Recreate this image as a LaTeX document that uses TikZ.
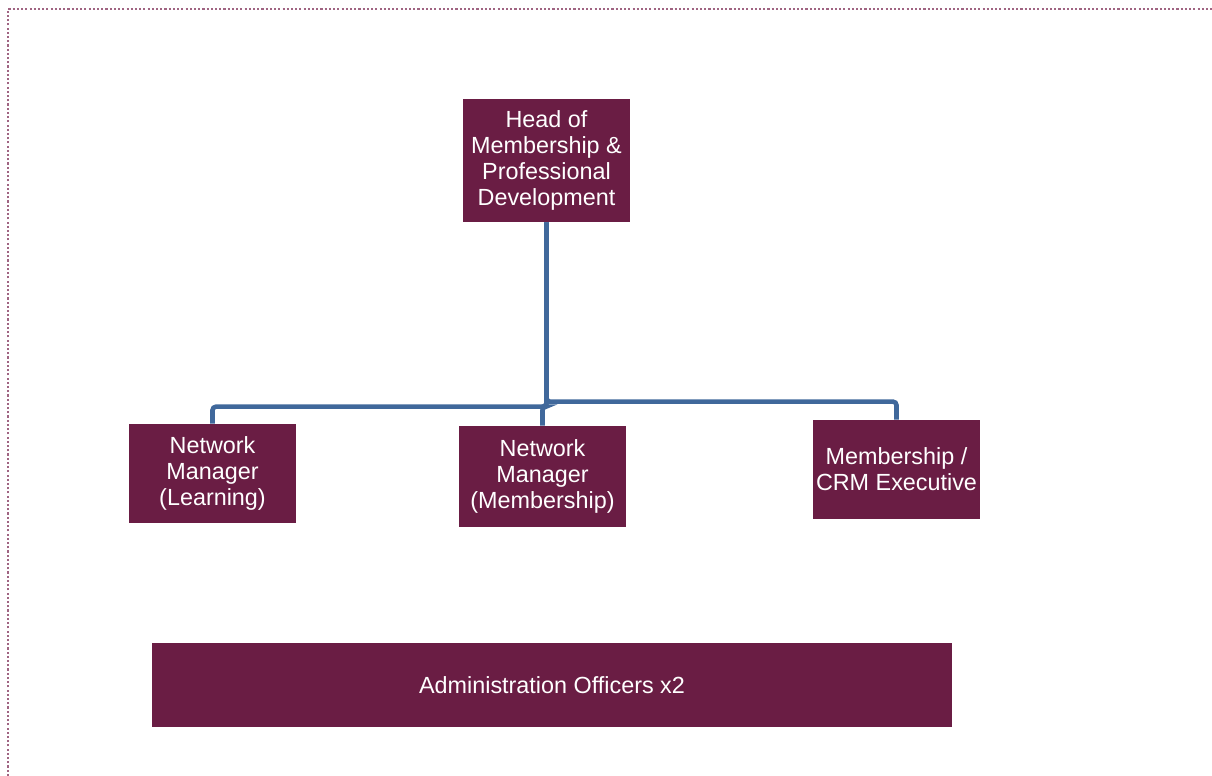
\documentclass[tikz,border=0pt]{standalone}
\usepackage{fontspec}
\setmainfont{Liberation Sans}
\usepackage{xcolor}
\definecolor{boxred}{RGB}{106,29,68}
\definecolor{linkblue}{RGB}{64,104,155}
\definecolor{edgepink}{RGB}{160,100,130}

\begin{document}
\begin{tikzpicture}[x=0.02cm, y=-0.02cm,
  post/.style={rectangle, fill=boxred, text=white, align=center, inner sep=0pt,
    minimum width=3.34cm, font=\fontsize{13.3}{14.8}\selectfont},
  link/.style={draw=linkblue, line width=2.6pt, rounded corners=2pt}]
\useasboundingbox (0,0) rectangle (1212,776);

% Page edge
\draw[edgepink, dash pattern=on 1.2pt off 1.2pt, line width=1.2pt] (8,776) -- (8,9) -- (1212,9);

% Nodes
\node[post, minimum height=2.46cm] (head) at (546.5,160.5) {Head of\\Membership \&\\Professional\\Development};
\node[post, minimum height=1.98cm] (nml) at (212.5,473.5) {Network\\Manager\\(Learning)};
\node[post, minimum height=2.02cm] (nmm) at (542.5,476.5) {Network\\Manager\\(Membership)};
\node[post, minimum height=1.98cm] (crm) at (896.5,469.5) {Membership /\\CRM Executive};
\node[post, minimum width=16cm, minimum height=1.68cm] (admin) at (552,685) {Administration Officers x2};

% Reporting lines
\draw[link] (head.south) |- ([yshift=0.36cm]crm.north) -- (crm.north);
\draw[link] (head.south) |- ([yshift=0.34cm]nml.north) -- (nml.north);
\draw[link] (head.south) |- ([yshift=0.38cm]nmm.north) -- (nmm.north);
\end{tikzpicture}
\end{document}
